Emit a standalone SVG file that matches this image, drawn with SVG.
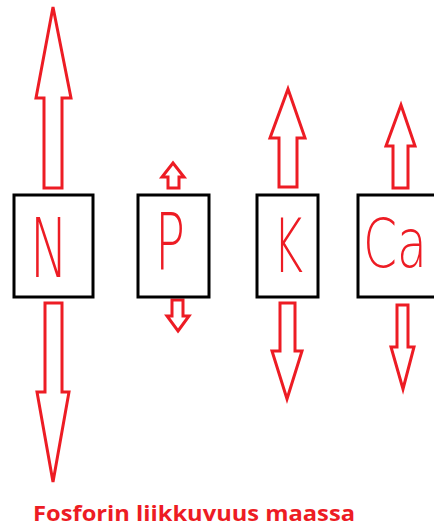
<svg xmlns="http://www.w3.org/2000/svg" width="434" height="527" viewBox="0 0 434 527">
<style>
.arrow{fill:#fff;stroke:#ED1C24;stroke-width:3;stroke-linejoin:miter}
.box{fill:#fff;stroke:#000;stroke-width:3}
.lbl{font-family:"DejaVu Sans","Liberation Sans",sans-serif;font-weight:200;fill:#ED1C24}
.title{font-family:"Open Sans","Liberation Sans",sans-serif;font-weight:bold;font-size:22px;fill:#ED1C24}
</style>
<rect width="434" height="527" fill="#fff"/>
<g id="connectors">
<polygon class="arrow" points="53,7 71,98 62,98 62,188 44,188 44,98 36,98"/>
<polygon class="arrow" points="53,482 69,392 62,392 62,303 45,303 45,392 37,392"/>
<polygon class="arrow" points="173,163 184,177 179,177 179,188 168,188 168,177 162,177"/>
<polygon class="arrow" points="178,331 189,316 183,316 183,300 172,300 172,316 167,316"/>
<polygon class="arrow" points="288,89 305,138 297,138 297,187 279,187 279,138 270,138"/>
<polygon class="arrow" points="287,399 302,351 295,351 295,303 280,303 280,351 272,351"/>
<polygon class="arrow" points="401,105 415,146 408,146 408,188 393,188 393,146 386,146"/>
<polygon class="arrow" points="403,389 414,347 408,347 408,305 397,305 397,347 391,347"/>
</g>
<g id="node-N">
<rect class="box" x="14" y="195" width="79" height="102"/>
<text class="lbl" x="30" y="277" font-size="82" textLength="38" lengthAdjust="spacingAndGlyphs">N</text>
</g>
<g id="node-P">
<rect class="box" x="138" y="195" width="71" height="102"/>
<text class="lbl" x="155" y="270" font-size="78" textLength="30" lengthAdjust="spacingAndGlyphs">P</text>
</g>
<g id="node-K">
<rect class="box" x="257" y="195" width="61" height="102"/>
<text class="lbl" x="273" y="272" font-size="75" textLength="30" lengthAdjust="spacingAndGlyphs">K</text>
</g>
<g id="node-Ca">
<rect class="box" x="358" y="195" width="90" height="102"/>
<text class="lbl" x="363" y="267" font-size="68" textLength="64" lengthAdjust="spacingAndGlyphs">Ca</text>
</g>
<g id="title">
<text class="title" x="33" y="521" textLength="322" lengthAdjust="spacingAndGlyphs">Fosforin liikkuvuus maassa</text>
</g>
</svg>
